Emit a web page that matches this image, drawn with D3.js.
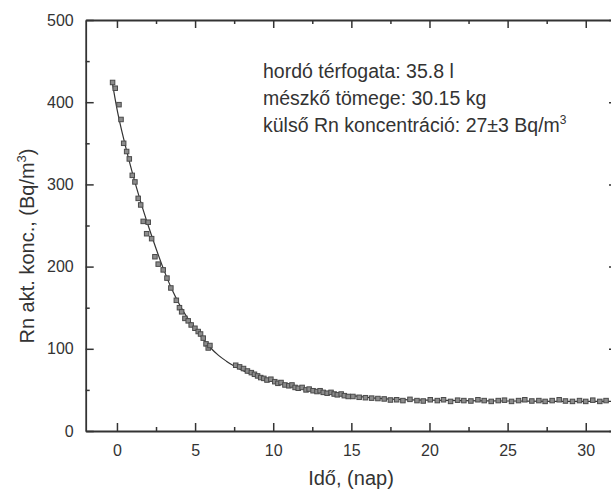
<!DOCTYPE html>
<html>
<head>
<meta charset="utf-8">
<script src="https://cdn.jsdelivr.net/npm/d3@7"></script>
<style>
  html, body { margin: 0; padding: 0; background: #fff; }
  svg text { font-family: "Liberation Sans", Arial, sans-serif; fill: #333; }
</style>
</head>
<body>
<svg id="chart" width="611" height="489"></svg>
<script>
// ---- data ----
const pointTimes = [
  -0.28, -0.11, 0.13, 0.26, 0.43, 0.62, 0.79, 0.98, 1.15, 1.36, 1.52, 1.68, 1.9, 2.0, 2.22, 2.43,
  2.64, 2.96, 3.2, 3.45, 3.8, 4.0, 4.14, 4.35, 4.56, 4.75, 4.99, 5.2, 5.35, 5.52, 5.7, 5.84, 5.95,
  7.6, 7.85, 8.1, 8.35, 8.6, 8.8, 9.0, 9.2, 9.4, 9.6, 9.85, 10.1, 10.3, 10.5, 10.75, 11.0, 11.2,
  11.4, 11.6, 11.85, 12.1, 12.3, 12.55, 12.8, 13.0, 13.2, 13.45, 13.7, 13.9, 14.1, 14.35, 14.55,
  14.8, 15.1, 15.5, 15.9, 16.3, 16.7, 17.1, 17.5,
  17.9, 18.3, 18.75, 19.2, 19.6, 20.05, 20.5, 20.9, 21.35, 21.8, 22.2, 22.65, 23.1, 23.5, 23.95,
  24.4, 24.8, 25.25, 25.7, 26.1, 26.55, 27.0, 27.4, 27.85, 28.3, 28.7, 29.15, 29.6, 30.0, 30.45,
  30.9, 31.3
];
const pointValues = [
  424, 417, 397, 379, 350, 340, 331, 311, 303, 283, 275, 255, 240, 254, 234, 212,
  203, 196, 186, 174, 159, 150, 145, 137, 134, 129, 125, 121, 118, 113, 106, 101, 104,
  80, 78, 76, 73, 71, 69, 67, 65, 64, 62, 63, 60, 58, 59, 56, 55, 56,
  53, 52, 53, 50, 51, 49, 48, 49, 47, 46, 47, 45, 44, 45, 43,
  42, 42, 41, 40.5, 40, 39.5, 39, 37.7,
  38, 37, 38.5, 37, 36.5, 38, 37, 38, 36, 37.5, 37, 36.5, 38, 37,
  36, 37, 37.5, 36, 37, 38, 36.5, 37, 36, 37, 38, 36.5, 36, 37, 36, 37.5,
  36, 37
];
// fitted curve
const fitTimes  = [-0.3, 0, 0.5, 1, 1.5, 2, 2.5, 3, 3.5, 4, 4.5, 5, 5.5, 6, 6.5, 7, 7.5, 8, 9, 10, 11, 12, 13, 14, 15, 16, 17, 18, 20, 22, 25, 28, 32];
const fitValues = [424, 392, 350, 313, 280, 250, 222, 196, 173, 154, 138, 125, 112, 101, 92, 85, 79, 74, 66, 60, 55, 51, 48, 45, 43, 41, 39.5, 38.5, 37.5, 37, 36.5, 36, 36];

const xMajorTicks = [0, 5, 10, 15, 20, 25, 30];
const xMinorTicks = [2.5, 7.5, 12.5, 17.5, 22.5, 27.5];
const yMajorTicks = [0, 100, 200, 300, 400, 500];
const yMinorTicks = [50, 150, 250, 350, 450];

const xLabel = "Idő, (nap)";
const yLabel = "Rn akt. konc., (Bq/m";
const noteLines = ["hordó térfogata: 35.8 l", "mészkő tömege: 30.15 kg", "külső Rn koncentráció: 27±3 Bq/m"];

// ---- drawing ----
const svg = d3.select("#chart");
const x = d3.scaleLinear().domain([-2, 32]).range([85.7, 617]);
const y = d3.scaleLinear().domain([0, 500]).range([431, 20]);
const axisColor = "#333";

function styleAxis(g) {
  g.select(".domain").attr("stroke", axisColor).attr("stroke-width", 1.8);
  g.selectAll(".tick line").attr("stroke", axisColor).attr("stroke-width", 1.5);
  g.selectAll(".tick text").style("font-size", "16px").attr("fill", "#333");
}

// bottom axis
const gB = svg.append("g").attr("transform", `translate(0,${y(0)})`)
  .call(d3.axisBottom(x).tickValues(xMajorTicks).tickSizeInner(-8).tickSizeOuter(0).tickPadding(14).tickFormat(d3.format("d")));
styleAxis(gB);
svg.append("g").attr("transform", `translate(0,${y(0)})`)
  .call(d3.axisBottom(x).tickValues(xMinorTicks).tickSizeInner(-4).tickSizeOuter(0).tickFormat(""))
  .call(g => { g.select(".domain").remove(); g.selectAll("line").attr("stroke", axisColor).attr("stroke-width", 1.5); });

// top axis
const gT = svg.append("g").attr("transform", `translate(0,${y(500)})`)
  .call(d3.axisTop(x).tickValues(xMajorTicks).tickSizeInner(-8).tickSizeOuter(0).tickFormat(""));
styleAxis(gT);
svg.append("g").attr("transform", `translate(0,${y(500)})`)
  .call(d3.axisTop(x).tickValues(xMinorTicks).tickSizeInner(-4).tickSizeOuter(0).tickFormat(""))
  .call(g => { g.select(".domain").remove(); g.selectAll("line").attr("stroke", axisColor).attr("stroke-width", 1.5); });

// left axis
const gL = svg.append("g").attr("transform", `translate(${x(-2)},0)`)
  .call(d3.axisLeft(y).tickValues(yMajorTicks).tickSizeInner(-8).tickSizeOuter(0).tickPadding(12).tickFormat(d3.format("d")));
styleAxis(gL);
svg.append("g").attr("transform", `translate(${x(-2)},0)`)
  .call(d3.axisLeft(y).tickValues(yMinorTicks).tickSizeInner(-4).tickSizeOuter(0).tickFormat(""))
  .call(g => { g.select(".domain").remove(); g.selectAll("line").attr("stroke", axisColor).attr("stroke-width", 1.5); });

// right axis
const gR = svg.append("g").attr("transform", `translate(${x(32)},0)`)
  .call(d3.axisRight(y).tickValues(yMajorTicks).tickSizeInner(-8).tickSizeOuter(0).tickFormat(""));
styleAxis(gR);
svg.append("g").attr("transform", `translate(${x(32)},0)`)
  .call(d3.axisRight(y).tickValues(yMinorTicks).tickSizeInner(-4).tickSizeOuter(0).tickFormat(""))
  .call(g => { g.select(".domain").remove(); g.selectAll("line").attr("stroke", axisColor).attr("stroke-width", 1.5); });

// fitted curve
const fit = fitTimes.map((t, i) => [t, fitValues[i]]);
svg.append("path")
  .datum(fit)
  .attr("fill", "none")
  .attr("stroke", "#333")
  .attr("stroke-width", 1.2)
  .attr("d", d3.line().x(d => x(d[0])).y(d => y(d[1])).curve(d3.curveMonotoneX));

// data points
const pts = pointTimes.map((t, i) => [t, pointValues[i]]);
const s = 4.5;
svg.append("g").selectAll("rect").data(pts).join("rect")
  .attr("x", d => x(d[0]) - s / 2)
  .attr("y", d => y(d[1]) - s / 2)
  .attr("width", s).attr("height", s)
  .attr("fill", "#8c8c8c")
  .attr("stroke", "#4a4a4a")
  .attr("stroke-width", 1);

// axis labels
svg.append("text")
  .attr("x", 351).attr("y", 485)
  .attr("text-anchor", "middle")
  .style("font-size", "20px")
  .text(xLabel);

const yl = svg.append("text")
  .attr("transform", "translate(33.5,246) rotate(-90)")
  .attr("text-anchor", "middle")
  .style("font-size", "20px");
yl.append("tspan").text(yLabel);
yl.append("tspan").attr("dy", -8).style("font-size", "13px").text("3");
yl.append("tspan").attr("dy", 8).text(")");

// annotation
const noteY = [78, 105, 132];
noteLines.forEach((line, i) => {
  const t = svg.append("text").attr("x", 263).attr("y", noteY[i]).style("font-size", "19.5px");
  t.append("tspan").text(line);
  if (i === 2) t.append("tspan").attr("dy", -8).style("font-size", "12px").text("3");
});
</script>
</body>
</html>
